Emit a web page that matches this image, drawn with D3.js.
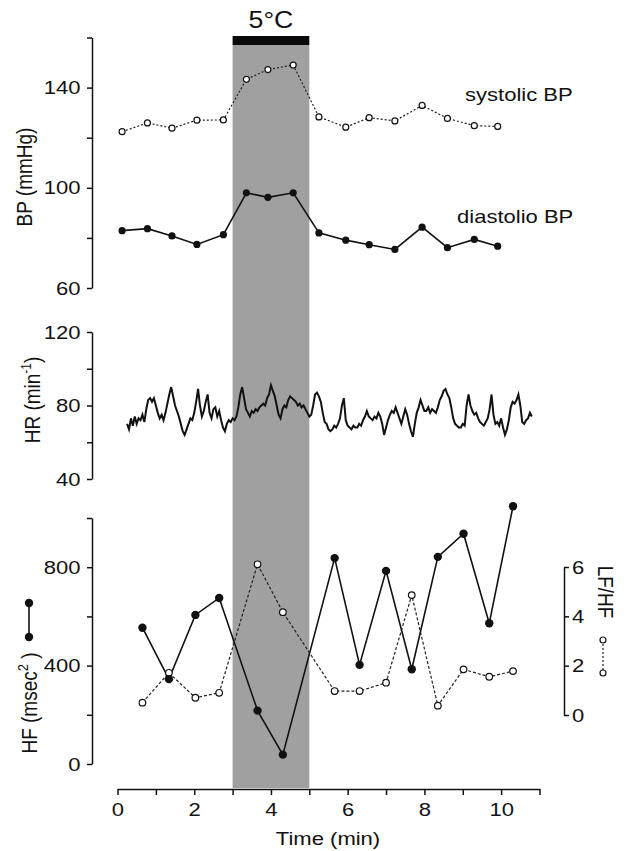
<!doctype html>
<html>
<head>
  <meta charset="utf8">
  <title>cold pressor</title>
  <style>
    body { margin: 0; padding: 0; background: #fff; }
    svg text { font-family: "Liberation Sans", Arial, sans-serif; fill: #111; }
  </style>
</head>
<body>
  <svg></svg>

  <script src="https://d3js.org/d3.v7.min.js"></script>
  <script>
    // blood pressure, 40 s samples
    const bpTimes = [0.12, 0.78, 1.42, 2.07, 2.76, 3.36, 3.92, 4.58, 5.25, 5.95, 6.56, 7.23, 7.94, 8.6, 9.3, 9.91]
    const systolic = [122.4, 125.9, 123.8, 127, 127.1, 143.3, 147.2, 149, 128.3, 124.2, 128, 126.7, 132.9, 127.7, 124.8, 124.5]
    const diastolic = [82.9, 83.7, 80.8, 77.4, 81.3, 98.0, 96.2, 98.0, 82.0, 79.1, 77.3, 75.4, 84.3, 76.1, 79.4, 76.7]

    // heart rate trace, sampled every 0.05 min from 0.25 min
    const hrStart = 0.25
    const hrStep = 0.05
    const hr = [
      70, 67, 73, 69, 74, 70, 73, 72, 75, 71, 78, 83, 84, 82, 84, 80, 76, 73, 75, 72,
      76, 81, 86, 90, 85, 80, 77, 74, 70, 66, 64, 67, 70, 73, 72, 76, 82, 89, 80, 74,
      77, 82, 86, 76, 73, 78, 79, 74, 77, 72, 68, 66, 70, 72, 71, 73, 72, 74, 79, 86,
      90, 84, 78, 76, 74, 77, 76, 78, 77, 79, 80, 81, 80, 84, 86, 91, 88, 85, 80, 75,
      73, 78, 80, 79, 83, 85, 84, 83, 82, 80, 81, 79, 80, 78, 76, 74, 75, 80, 86, 87,
      85, 82, 76, 71, 70, 67, 66, 67, 69, 68, 70, 73, 80, 84, 72, 69, 68, 67, 69, 68,
      68, 70, 69, 72, 74, 77, 74, 73, 72, 74, 73, 76, 74, 70, 64, 68, 72, 75, 77, 76,
      79, 76, 73, 70, 74, 78, 75, 70, 66, 63, 70, 76, 79, 83, 80, 77, 77, 79, 76, 78,
      77, 76, 79, 83, 85, 88, 89, 86, 84, 79, 73, 70, 69, 68, 68, 70, 69, 80, 86, 80,
      77, 75, 76, 73, 71, 70, 69, 71, 73, 78, 86, 75, 70, 71, 69, 73, 68, 64, 67, 72,
      79, 82, 81, 83, 86, 80, 71, 70, 72, 73, 76, 74
    ]

    // spectral analysis
    const hfTimes = [0.65, 1.34, 2.03, 2.65, 3.65, 4.31, 5.66, 6.31, 7.0, 7.67, 8.35, 9.02, 9.69, 10.31]
    const hf = [554, 345, 606, 675, 217, 38, 837, 403, 785, 385, 842, 936, 572, 1048]
    const lfhf = [0.50, 1.71, 0.70, 0.90, 6.11, 4.17, 0.97, 0.97, 1.31, 4.86, 0.38, 1.85, 1.55, 1.78]

    const coldStart = 3
    const coldEnd = 5

    const xTicks = d3.range(0, 12)
    const bpTicks = [60, 80, 100, 120, 140, 160]
    const hrTicks = [40, 60, 80, 100, 120]
    const hfTicks = [0, 200, 400, 600, 800, 1000]
    const lfhfTicks = [0, 2, 4, 6]

    const width = 629
    const height = 851
    const sx = 1.16 // the scanned figure is a bit wider than tall

    const svg = d3.select('svg')
      .attr('width', width)
      .attr('height', height)

    const x = d3.scaleLinear().domain([0, 11]).range([117.5, 539.5])
    const yBP = d3.scaleLinear().domain([60, 160]).range([288, 37.5])
    const yHR = d3.scaleLinear().domain([40, 120]).range([479, 332])
    const yHF = d3.scaleLinear().domain([0, 1000]).range([764, 518])
    const yLF = d3.scaleLinear().domain([0, 6]).range([715, 567])

    // cold exposure band
    svg.append('rect')
      .attr('x', x(coldStart))
      .attr('y', 45)
      .attr('width', x(coldEnd) - x(coldStart))
      .attr('height', 788 - 45)
      .style('fill', '#a0a0a0')

    svg.append('rect')
      .attr('x', x(coldStart))
      .attr('y', 36)
      .attr('width', x(coldEnd) - x(coldStart))
      .attr('height', 9)
      .style('fill', '#0a0a0a')

    function label (txt, px, py, size, anchor = 'start', rot = 0) {
      return svg.append('text')
        .attr('transform', `translate(${px},${py}) scale(${sx},1) rotate(${rot})`)
        .style('font-size', size + 'px')
        .style('text-anchor', anchor)
        .text(txt)
    }

    label('5°C', (x(coldStart) + x(coldEnd)) / 2, 28, 23, 'middle')

    function styleAxis (g) {
      g.select('.domain').style('stroke-width', 1.5).style('stroke', '#111')
      g.selectAll('.tick line').style('stroke-width', 1.5).style('stroke', '#111')
      g.selectAll('.tick text')
        .style('font-size', '19px')
        .style('font-family', '"Liberation Sans", Arial, sans-serif')
        .attr('transform', `scale(${sx},1)`)
    }

    const leftX = 92

    // BP panel
    svg.append('g')
      .attr('transform', `translate(${leftX},0)`)
      .call(d3.axisLeft(yBP).tickValues(bpTicks).tickSize(5).tickSizeOuter(0).tickPadding(5)
        .tickFormat(d => (d === 60 || d === 100 || d === 140) ? d : ''))
      .call(styleAxis)

    const sysLine = d3.line().x((d, i) => x(bpTimes[i])).y(d => yBP(d))
    svg.append('path')
      .attr('d', sysLine(systolic))
      .style('fill', 'none').style('stroke', '#222').style('stroke-width', 1.2)
      .style('stroke-dasharray', '2,2')
    svg.append('path')
      .attr('d', sysLine(diastolic))
      .style('fill', 'none').style('stroke', '#111').style('stroke-width', 1.6)

    svg.append('g').selectAll('circle')
      .data(systolic)
      .join('circle')
      .attr('cx', (d, i) => x(bpTimes[i]))
      .attr('cy', d => yBP(d))
      .attr('r', 3)
      .style('fill', '#fff').style('stroke', '#111').style('stroke-width', 1.2)

    svg.append('g').selectAll('circle')
      .data(diastolic)
      .join('circle')
      .attr('cx', (d, i) => x(bpTimes[i]))
      .attr('cy', d => yBP(d))
      .attr('r', 3.6)
      .style('fill', '#111')

    label('systolic BP', 465, 101, 19)
    label('diastolio BP', 457, 223, 19)
    label('BP (mmHg)', 32, 177, 19, 'middle', -90)

    // HR panel
    svg.append('g')
      .attr('transform', `translate(${leftX},0)`)
      .call(d3.axisLeft(yHR).tickValues(hrTicks).tickSize(5).tickSizeOuter(0).tickPadding(5)
        .tickFormat(d => (d === 40 || d === 80 || d === 120) ? d : ''))
      .call(styleAxis)

    const hrLine = d3.line().x((d, i) => x(hrStart + i * hrStep)).y(d => yHR(d))
    svg.append('path')
      .attr('d', hrLine(hr))
      .style('fill', 'none').style('stroke', '#111').style('stroke-width', 2)
      .style('stroke-linejoin', 'miter')

    const hrLabel = label('', 40, 400, 19, 'middle', -90)
    hrLabel.append('tspan').text('HR (min')
    hrLabel.append('tspan').text('-1').style('font-size', '12px').attr('dy', -8)
    hrLabel.append('tspan').text(')').attr('dy', 8)

    // HF / LF-HF panel
    svg.append('g')
      .attr('transform', `translate(${leftX},0)`)
      .call(d3.axisLeft(yHF).tickValues(hfTicks).tickSize(5).tickSizeOuter(0).tickPadding(5)
        .tickFormat(d => (d % 400 === 0) ? d : ''))
      .call(styleAxis)

    svg.append('g')
      .attr('transform', 'translate(564,0)')
      .call(d3.axisRight(yLF).tickValues(lfhfTicks).tickSize(5).tickSizeOuter(0).tickPadding(2)
        .tickFormat(d3.format('d')))
      .call(styleAxis)

    const lfLine = d3.line().x((d, i) => x(hfTimes[i])).y(d => yLF(d))
    const hfLine = d3.line().x((d, i) => x(hfTimes[i])).y(d => yHF(d))

    svg.append('path')
      .attr('d', lfLine(lfhf))
      .style('fill', 'none').style('stroke', '#222').style('stroke-width', 1.2)
      .style('stroke-dasharray', '3,2')
    svg.append('path')
      .attr('d', hfLine(hf))
      .style('fill', 'none').style('stroke', '#111').style('stroke-width', 1.6)

    svg.append('g').selectAll('circle')
      .data(lfhf)
      .join('circle')
      .attr('cx', (d, i) => x(hfTimes[i]))
      .attr('cy', d => yLF(d))
      .attr('r', 3.3)
      .style('fill', '#fff').style('stroke', '#111').style('stroke-width', 1.2)

    svg.append('g').selectAll('circle')
      .data(hf)
      .join('circle')
      .attr('cx', (d, i) => x(hfTimes[i]))
      .attr('cy', d => yHF(d))
      .attr('r', 4.2)
      .style('fill', '#111')

    // left legend key: filled dots joined by solid line
    svg.append('line').attr('x1', 29).attr('x2', 29).attr('y1', 603).attr('y2', 637)
      .style('stroke', '#111').style('stroke-width', 1.6)
    svg.append('circle').attr('cx', 29).attr('cy', 603).attr('r', 4.2).style('fill', '#111')
    svg.append('circle').attr('cx', 29).attr('cy', 637).attr('r', 4.2).style('fill', '#111')

    const hfLabel = label('', 37, 703, 19, 'middle', -90)
    hfLabel.append('tspan').text('HF (msec')
    hfLabel.append('tspan').text('2').style('font-size', '13px').attr('dy', -8)
    hfLabel.append('tspan').text(' )').attr('dy', 8)

    // right legend key: open dots joined by dotted line
    svg.append('line').attr('x1', 603).attr('x2', 603).attr('y1', 640).attr('y2', 673)
      .style('stroke', '#222').style('stroke-width', 1.2).style('stroke-dasharray', '2,2')
    svg.append('circle').attr('cx', 603).attr('cy', 640).attr('r', 3)
      .style('fill', '#fff').style('stroke', '#111').style('stroke-width', 1.2)
    svg.append('circle').attr('cx', 603).attr('cy', 673).attr('r', 3)
      .style('fill', '#fff').style('stroke', '#111').style('stroke-width', 1.2)

    label('LF/HF', 598, 592, 19, 'middle', 90)

    // time axis
    svg.append('g')
      .attr('transform', 'translate(0,789)')
      .call(d3.axisBottom(x).tickValues(xTicks).tickSize(6).tickSizeOuter(0).tickPadding(8)
        .tickFormat(d => d % 2 === 0 ? d : ''))
      .call(styleAxis)

    label('Time (min)', 328, 845, 19, 'middle')
  </script>
</body>
</html>
